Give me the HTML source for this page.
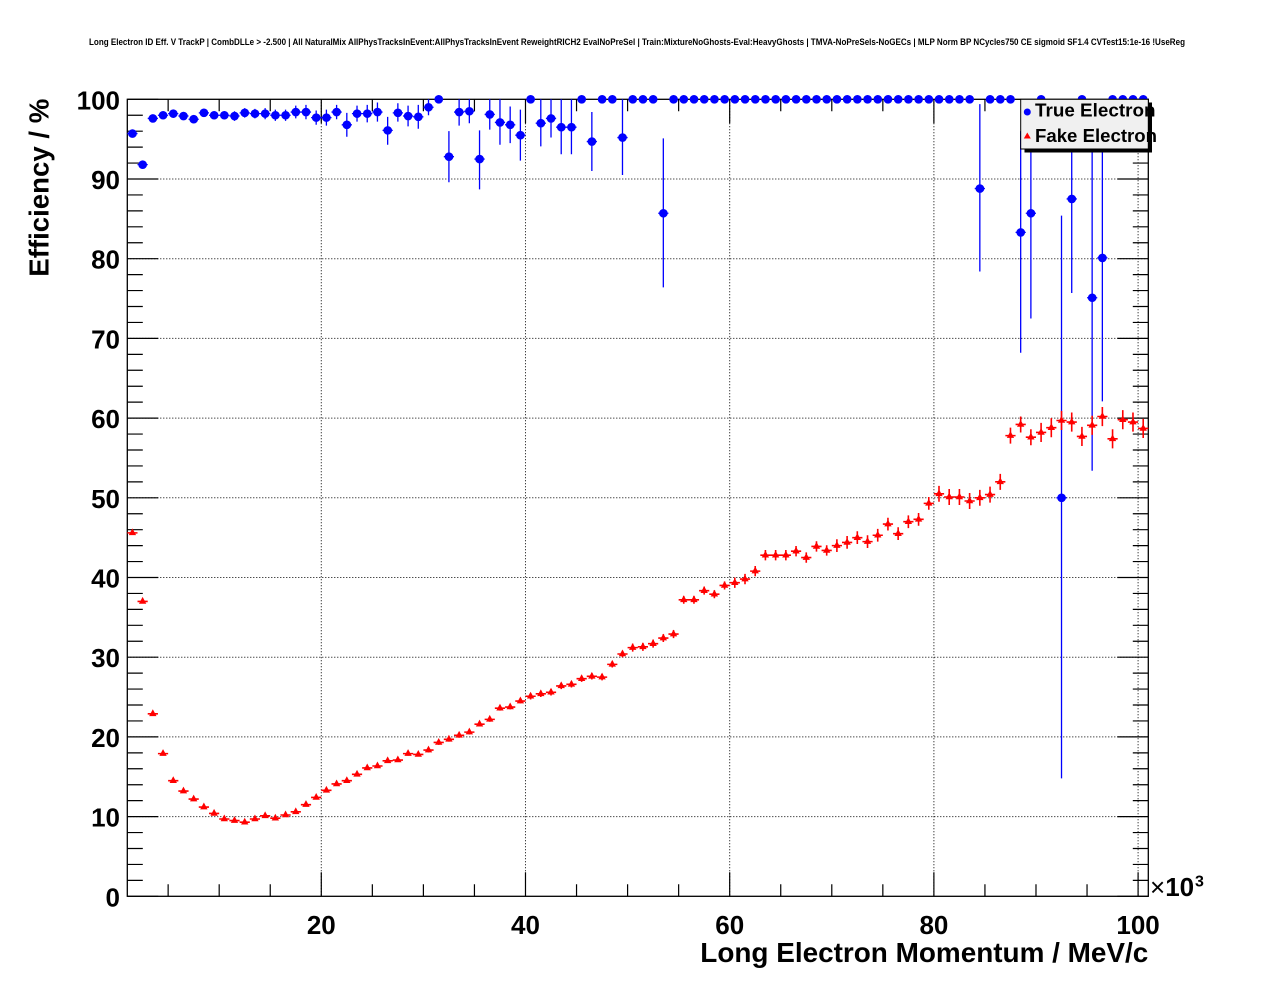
<!DOCTYPE html>
<html>
<head>
<meta charset="utf-8">
<style>
html,body{margin:0;padding:0;background:#fff;}
svg{display:block;font-family:"Liberation Sans",Arial,sans-serif;}
</style>
</head>
<body>
<svg width="1276" height="996" viewBox="0 0 1276 996" xmlns="http://www.w3.org/2000/svg">
<defs>
<marker id="tri" markerUnits="userSpaceOnUse" markerWidth="0.8" markerHeight="1" viewBox="-4 -4 8 8" refX="0" refY="0" preserveAspectRatio="none" overflow="visible">
<path d="M-3.6 -2.3H3.6L0 4.5Z" fill="#ff0000"/>
</marker>
</defs>
<rect x="0" y="0" width="1276" height="996" fill="#fff"/>

<!-- title -->
<text x="89" y="45" font-size="9.5" font-weight="bold" textLength="1096" lengthAdjust="spacingAndGlyphs">Long Electron ID Eff. V TrackP | CombDLLe &gt; -2.500 | All NaturalMix AllPhysTracksInEvent:AllPhysTracksInEvent ReweightRICH2 EvalNoPreSel | Train:MixtureNoGhosts-Eval:HeavyGhosts | TMVA-NoPreSels-NoGECs | MLP Norm BP NCycles750 CE sigmoid SF1.4 CVTest15:1e-16 !UseReg</text>

<!-- grid horizontal -->
<g transform="matrix(1 0 0 -7.97 0 896.3)">
<path d="M127.3 10H1148.3M127.3 20H1148.3M127.3 30H1148.3M127.3 40H1148.3M127.3 50H1148.3M127.3 60H1148.3M127.3 70H1148.3M127.3 80H1148.3M127.3 90H1148.3" stroke="#000" stroke-width="1" stroke-dasharray="1 2" fill="none" vector-effect="non-scaling-stroke"/>
</g>
<!-- grid vertical -->
<g transform="matrix(10.21 0 0 1 117.09 0)">
<path d="M20 99.3V896.3M40 99.3V896.3M60 99.3V896.3M80 99.3V896.3M100 99.3V896.3" stroke="#000" stroke-width="1" stroke-dasharray="1 2" fill="none" vector-effect="non-scaling-stroke"/>
</g>

<!-- frame -->
<rect x="127.3" y="99.3" width="1021" height="797" fill="none" stroke="#000" stroke-width="1.3"/>

<!-- y ticks -->
<g transform="matrix(1 0 0 -7.97 0 896.3)">
<path d="M127.3 0h31M127.3 2h15.5M127.3 4h15.5M127.3 6h15.5M127.3 8h15.5M127.3 10h31M127.3 12h15.5M127.3 14h15.5M127.3 16h15.5M127.3 18h15.5M127.3 20h31M127.3 22h15.5M127.3 24h15.5M127.3 26h15.5M127.3 28h15.5M127.3 30h31M127.3 32h15.5M127.3 34h15.5M127.3 36h15.5M127.3 38h15.5M127.3 40h31M127.3 42h15.5M127.3 44h15.5M127.3 46h15.5M127.3 48h15.5M127.3 50h31M127.3 52h15.5M127.3 54h15.5M127.3 56h15.5M127.3 58h15.5M127.3 60h31M127.3 62h15.5M127.3 64h15.5M127.3 66h15.5M127.3 68h15.5M127.3 70h31M127.3 72h15.5M127.3 74h15.5M127.3 76h15.5M127.3 78h15.5M127.3 80h31M127.3 82h15.5M127.3 84h15.5M127.3 86h15.5M127.3 88h15.5M127.3 90h31M127.3 92h15.5M127.3 94h15.5M127.3 96h15.5M127.3 98h15.5M127.3 100h31
M1148.3 0h-31M1148.3 2h-15.5M1148.3 4h-15.5M1148.3 6h-15.5M1148.3 8h-15.5M1148.3 10h-31M1148.3 12h-15.5M1148.3 14h-15.5M1148.3 16h-15.5M1148.3 18h-15.5M1148.3 20h-31M1148.3 22h-15.5M1148.3 24h-15.5M1148.3 26h-15.5M1148.3 28h-15.5M1148.3 30h-31M1148.3 32h-15.5M1148.3 34h-15.5M1148.3 36h-15.5M1148.3 38h-15.5M1148.3 40h-31M1148.3 42h-15.5M1148.3 44h-15.5M1148.3 46h-15.5M1148.3 48h-15.5M1148.3 50h-31M1148.3 52h-15.5M1148.3 54h-15.5M1148.3 56h-15.5M1148.3 58h-15.5M1148.3 60h-31M1148.3 62h-15.5M1148.3 64h-15.5M1148.3 66h-15.5M1148.3 68h-15.5M1148.3 70h-31M1148.3 72h-15.5M1148.3 74h-15.5M1148.3 76h-15.5M1148.3 78h-15.5M1148.3 80h-31M1148.3 82h-15.5M1148.3 84h-15.5M1148.3 86h-15.5M1148.3 88h-15.5M1148.3 90h-31M1148.3 92h-15.5M1148.3 94h-15.5M1148.3 96h-15.5M1148.3 98h-15.5M1148.3 100h-31" stroke="#000" stroke-width="1.2" fill="none" vector-effect="non-scaling-stroke"/>
</g>
<!-- x ticks -->
<g transform="matrix(10.21 0 0 1 117.09 0)">
<path d="M5 896.3v-12M10 896.3v-12M15 896.3v-12M20 896.3v-24M25 896.3v-12M30 896.3v-12M35 896.3v-12M40 896.3v-24M45 896.3v-12M50 896.3v-12M55 896.3v-12M60 896.3v-24M65 896.3v-12M70 896.3v-12M75 896.3v-12M80 896.3v-24M85 896.3v-12M90 896.3v-12M95 896.3v-12M100 896.3v-24
M5 99.3v12M10 99.3v12M15 99.3v12M20 99.3v24M25 99.3v12M30 99.3v12M35 99.3v12M40 99.3v24M45 99.3v12M50 99.3v12M55 99.3v12M60 99.3v24M65 99.3v12M70 99.3v12M75 99.3v12M80 99.3v24M85 99.3v12M90 99.3v12M95 99.3v12M100 99.3v24" stroke="#000" stroke-width="1.2" fill="none" vector-effect="non-scaling-stroke"/>
</g>

<!-- tick labels -->
<g font-size="26" font-weight="bold" text-anchor="end" fill="#000">
<text x="120" y="906.3">0</text>
<text x="120" y="826.6">10</text>
<text x="120" y="746.9">20</text>
<text x="120" y="667.2">30</text>
<text x="120" y="587.5">40</text>
<text x="120" y="507.8">50</text>
<text x="120" y="428.1">60</text>
<text x="120" y="348.4">70</text>
<text x="120" y="268.7">80</text>
<text x="120" y="189">90</text>
<text x="120" y="109.3">100</text>
</g>
<g font-size="26" font-weight="bold" text-anchor="middle" fill="#000">
<text x="321.3" y="934">20</text>
<text x="525.5" y="934">40</text>
<text x="729.7" y="934">60</text>
<text x="933.9" y="934">80</text>
<text x="1138.1" y="934">100</text>
</g>
<text x="1150" y="896" font-size="26" font-weight="bold"><tspan font-weight="normal">×</tspan>10</text>
<text x="1195" y="886.5" font-size="16" font-weight="bold">3</text>

<!-- axis titles -->
<text x="700.3" y="962" font-size="27.6" font-weight="bold" textLength="448" lengthAdjust="spacingAndGlyphs">Long Electron Momentum / MeV/c</text>
<text transform="translate(48.7 276.7) rotate(-90)" font-size="27.6" font-weight="bold" textLength="178" lengthAdjust="spacingAndGlyphs">Efficiency / %</text>

<!-- data -->
<g transform="matrix(10.21 0 0 -7.97 117.09 896.3)">
<!-- blue error bars -->
<path fill="none" stroke="#0000ff" stroke-width="1.3" vector-effect="non-scaling-stroke" d="M1 95.7h1M1.5 95.2V96.2M2 91.8h1M2.5 91.4V92.2M3 97.6h1M3.5 97.2V98M4 98h1M4.5 97.6V98.4M5 98.2h1M5.5 97.8V98.6M6 97.9h1M6.5 97.5V98.3M7 97.5h1M7.5 97.1V97.9M8 98.3h1M8.5 97.8V98.8M9 98h1M9.5 97.5V98.5M10 98h1M10.5 97.5V98.5M11 97.9h1M11.5 97.3V98.5M12 98.3h1M12.5 97.7V98.9M13 98.2h1M13.5 97.6V98.8M14 98.2h1M14.5 97.5V98.9M15 98h1M15.5 97.3V98.7M16 98h1M16.5 97.3V98.7M17 98.4h1M17.5 97.6V99.2M18 98.4h1M18.5 97.5V99.3M19 97.7h1M19.5 96.8V98.6M20 97.7h1M20.5 96.7V98.7M21 98.4h1M21.5 97.5V99.3M22 96.8h1M22.5 95.3V98.3M23 98.2h1M23.5 97.2V99.2M24 98.2h1M24.5 97.1V99.3M25 98.4h1M25.5 97.2V99.6M26 96.1h1M26.5 94.3V97.8M27 98.3h1M27.5 97.2V99.5M28 97.9h1M28.5 96.6V99.2M29 97.8h1M29.5 96.3V99.3M30 99h1M30.5 98V100M32 92.8h1M32.5 89.6V96M33 98.4h1M33.5 96.7V100M34 98.5h1M34.5 97V100M35 92.5h1M35.5 88.7V96.1M36 98.1h1M36.5 96.2V100M37 97.1h1M37.5 94.3V100M38 96.8h1M38.5 94.5V99.1M39 95.5h1M39.5 92.3V98.7M41 97h1M41.5 94.1V100M42 97.6h1M42.5 95.2V100M43 96.5h1M43.5 93.1V100M44 96.5h1M44.5 93.1V100M46 94.7h1M46.5 91V98.4M49 95.2h1M49.5 90.5V100M53 85.7h1M53.5 76.4V95.1M84 88.8h1M84.5 78.4V99.4M88 83.3h1M88.5 68.2V96M89 85.7h1M89.5 72.5V97M92 50h1M92.5 14.8V85.4M93 87.5h1M93.5 75.7V98M95 75.1h1M95.5 53.4V97M96 80.1h1M96.5 62.1V98"/>
<!-- red error bars -->
<path fill="none" stroke="#ff0000" stroke-width="1.6" vector-effect="non-scaling-stroke" d="M1 45.6h1m-.5-.2v.4M2 37h1m-.5-.2v.4M3 22.9h1m-.5-.2v.4M4 17.9h1m-.5-.2v.4M5 14.5h1m-.5-.2v.4M6 13.2h1m-.5-.2v.4M7 12.2h1m-.5-.2v.4M8 11.2h1m-.5-.2v.4M9 10.4h1m-.5-.2v.4M10 9.7h1m-.5-.2v.4M11 9.5h1m-.5-.2v.4M12 9.3h1m-.5-.2v.4M13 9.7h1m-.5-.2v.4M14 10.1h1m-.5-.2v.4M15 9.8h1m-.5-.2v.4M16 10.2h1m-.5-.2v.4M17 10.6h1m-.5-.2v.4M18 11.5h1m-.5-.2v.4M19 12.4h1m-.5-.2v.4M20 13.3h1m-.5-.25v.5M21 14.1h1m-.5-.25v.5M22 14.5h1m-.5-.25v.5M23 15.3h1m-.5-.25v.5M24 16.1h1m-.5-.25v.5M25 16.35h1m-.5-.25v.5M26 17h1m-.5-.25v.5M27 17.1h1m-.5-.25v.5M28 17.9h1m-.5-.25v.5M29 17.8h1m-.5-.25v.5M30 18.35h1m-.5-.3v.6M31 19.3h1m-.5-.3v.6M32 19.7h1m-.5-.3v.6M33 20.2h1m-.5-.3v.6M34 20.6h1m-.5-.3v.6M35 21.6h1m-.5-.3v.6M36 22.2h1m-.5-.3v.6M37 23.6h1m-.5-.3v.6M38 23.75h1m-.5-.3v.6M39 24.5h1m-.5-.3v.6M40 25.1h1m-.5-.4v.8M41 25.4h1m-.5-.4v.8M42 25.6h1m-.5-.4v.8M43 26.4h1m-.5-.4v.8M44 26.6h1m-.5-.4v.8M45 27.3h1m-.5-.4v.8M46 27.6h1m-.5-.4v.8M47 27.5h1m-.5-.4v.8M48 29.1h1m-.5-.4v.8M49 30.4h1m-.5-.4v.8M50 31.2h1m-.5-.5v1M51 31.3h1m-.5-.5v1M52 31.7h1m-.5-.5v1M53 32.4h1m-.5-.5v1M54 32.9h1m-.5-.5v1M55 37.2h1m-.5-.5v1M56 37.2h1m-.5-.5v1M57 38.35h1m-.5-.5v1M58 37.9h1m-.5-.5v1M59 39h1m-.5-.5v1M60 39.35h1m-.5-.65v1.3M61 39.8h1m-.5-.65v1.3M62 40.8h1m-.5-.65v1.3M63 42.8h1m-.5-.65v1.3M64 42.8h1m-.5-.65v1.3M65 42.8h1m-.5-.65v1.3M66 43.3h1m-.5-.65v1.3M67 42.5h1m-.5-.65v1.3M68 43.9h1m-.5-.65v1.3M69 43.4h1m-.5-.65v1.3M70 44h1m-.5-.8v1.6M71 44.4h1m-.5-.8v1.6M72 45h1m-.5-.8v1.6M73 44.5h1m-.5-.8v1.6M74 45.3h1m-.5-.8v1.6M75 46.7h1m-.5-.8v1.6M76 45.5h1m-.5-.8v1.6M77 47h1m-.5-.8v1.6M78 47.3h1m-.5-.8v1.6M79 49.3h1m-.5-.8v1.6M80 50.5h1m-.5-1v2M81 50.1h1m-.5-1v2M82 50.1h1m-.5-1v2M83 49.6h1m-.5-1v2M84 50h1m-.5-1v2M85 50.4h1m-.5-1v2M86 52h1m-.5-1v2M87 57.8h1m-.5-1v2M88 59.2h1m-.5-1v2M89 57.6h1m-.5-1v2M90 58.2h1m-.5-1.2v2.4M91 58.8h1m-.5-1.2v2.4M92 59.7h1m-.5-1.2v2.4M93 59.5h1m-.5-1.2v2.4M94 57.7h1m-.5-1.2v2.4M95 59.1h1m-.5-1.2v2.4M96 60.2h1m-.5-1.2v2.4M97 57.4h1m-.5-1.2v2.4M98 59.8h1m-.5-1.2v2.4M99 59.5h1m-.5-1.2v2.4M100 58.7h1m-.5-1.2v2.4"/>
<!-- blue dots -->
<path fill="none" stroke="#0000ff" stroke-width="8.6" stroke-linecap="round" vector-effect="non-scaling-stroke" d="M1.5 95.7h.01M2.5 91.8h.01M3.5 97.6h.01M4.5 98h.01M5.5 98.2h.01M6.5 97.9h.01M7.5 97.5h.01M8.5 98.3h.01M9.5 98h.01M10.5 98h.01M11.5 97.9h.01M12.5 98.3h.01M13.5 98.2h.01M14.5 98.2h.01M15.5 98h.01M16.5 98h.01M17.5 98.4h.01M18.5 98.4h.01M19.5 97.7h.01M20.5 97.7h.01M21.5 98.4h.01M22.5 96.8h.01M23.5 98.2h.01M24.5 98.2h.01M25.5 98.4h.01M26.5 96.1h.01M27.5 98.3h.01M28.5 97.9h.01M29.5 97.8h.01M30.5 99h.01M31.5 100h.01M32.5 92.8h.01M33.5 98.4h.01M34.5 98.5h.01M35.5 92.5h.01M36.5 98.1h.01M37.5 97.1h.01M38.5 96.8h.01M39.5 95.5h.01M40.5 100h.01M41.5 97h.01M42.5 97.6h.01M43.5 96.5h.01M44.5 96.5h.01M45.5 100h.01M46.5 94.7h.01M47.5 100h.01M48.5 100h.01M49.5 95.2h.01M50.5 100h.01M51.5 100h.01M52.5 100h.01M53.5 85.7h.01M54.5 100h.01M55.5 100h.01M56.5 100h.01M57.5 100h.01M58.5 100h.01M59.5 100h.01M60.5 100h.01M61.5 100h.01M62.5 100h.01M63.5 100h.01M64.5 100h.01M65.5 100h.01M66.5 100h.01M67.5 100h.01M68.5 100h.01M69.5 100h.01M70.5 100h.01M71.5 100h.01M72.5 100h.01M73.5 100h.01M74.5 100h.01M75.5 100h.01M76.5 100h.01M77.5 100h.01M78.5 100h.01M79.5 100h.01M80.5 100h.01M81.5 100h.01M82.5 100h.01M83.5 100h.01M84.5 88.8h.01M85.5 100h.01M86.5 100h.01M87.5 100h.01M88.5 83.3h.01M89.5 85.7h.01M90.5 100h.01M92.5 50h.01M93.5 87.5h.01M94.5 100h.01M95.5 75.1h.01M96.5 80.1h.01M97.5 100h.01M98.5 100h.01M99.5 100h.01M100.5 100h.01"/>
<!-- red triangles -->
<path fill="none" stroke="none" marker-start="url(#tri)" marker-mid="url(#tri)" marker-end="url(#tri)" d="M1.5 45.6 2.5 37 3.5 22.9 4.5 17.9 5.5 14.5 6.5 13.2 7.5 12.2 8.5 11.2 9.5 10.4 10.5 9.7 11.5 9.5 12.5 9.3 13.5 9.7 14.5 10.1 15.5 9.8 16.5 10.2 17.5 10.6 18.5 11.5 19.5 12.4 20.5 13.3 21.5 14.1 22.5 14.5 23.5 15.3 24.5 16.1 25.5 16.35 26.5 17 27.5 17.1 28.5 17.9 29.5 17.8 30.5 18.35 31.5 19.3 32.5 19.7 33.5 20.2 34.5 20.6 35.5 21.6 36.5 22.2 37.5 23.6 38.5 23.75 39.5 24.5 40.5 25.1 41.5 25.4 42.5 25.6 43.5 26.4 44.5 26.6 45.5 27.3 46.5 27.6 47.5 27.5 48.5 29.1 49.5 30.4 50.5 31.2 51.5 31.3 52.5 31.7 53.5 32.4 54.5 32.9 55.5 37.2 56.5 37.2 57.5 38.35 58.5 37.9 59.5 39 60.5 39.35 61.5 39.8 62.5 40.8 63.5 42.8 64.5 42.8 65.5 42.8 66.5 43.3 67.5 42.5 68.5 43.9 69.5 43.4 70.5 44 71.5 44.4 72.5 45 73.5 44.5 74.5 45.3 75.5 46.7 76.5 45.5 77.5 47 78.5 47.3 79.5 49.3 80.5 50.5 81.5 50.1 82.5 50.1 83.5 49.6 84.5 50 85.5 50.4 86.5 52 87.5 57.8 88.5 59.2 89.5 57.6 90.5 58.2 91.5 58.8 92.5 59.7 93.5 59.5 94.5 57.7 95.5 59.1 96.5 60.2 97.5 57.4 98.5 59.8 99.5 59.5 100.5 58.7"/>
</g>

<!-- legend -->
<rect x="1024.5" y="102.5" width="127.5" height="50" fill="#000"/>
<rect x="1020.7" y="99.3" width="127.6" height="49.7" fill="#f0f0f0" stroke="#000" stroke-width="1"/>
<circle cx="1027.3" cy="112" r="3.5" fill="#0000ff"/>
<polygon points="1023.8,138.5 1030.8,138.5 1027.3,132.5" fill="#ff0000"/>
<text x="1035" y="116.7" font-size="18.5" font-weight="bold" fill="#000" textLength="120.5" lengthAdjust="spacingAndGlyphs">True Electron</text>
<text x="1035" y="142" font-size="18.5" font-weight="bold" fill="#000" textLength="122" lengthAdjust="spacingAndGlyphs">Fake Electron</text>
</svg>
</body>
</html>
